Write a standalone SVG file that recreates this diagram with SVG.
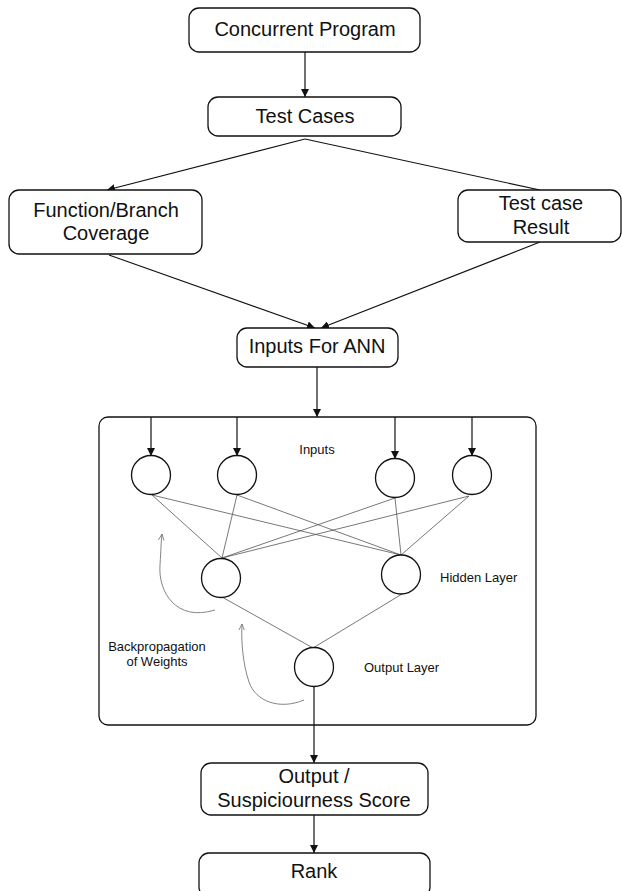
<svg xmlns="http://www.w3.org/2000/svg" width="622" height="891" viewBox="0 0 622 891">
<style>
.box{fill:#fff;stroke:#111;stroke-width:1.3}
.t{font-family:"Liberation Sans",Arial,sans-serif;font-size:20px;fill:#111;text-anchor:middle}
.s{font-family:"Liberation Sans",Arial,sans-serif;font-size:13px;fill:#111}
.c{fill:#fff;stroke:#111;stroke-width:1.3}
.w{stroke:#555;stroke-width:0.8;fill:none}
.a{stroke:#111;stroke-width:1.2;fill:none}
.bp{stroke:#777;stroke-width:0.9;fill:none}
</style>
<defs>
<marker id="ah" viewBox="0 0 10 10" refX="10" refY="5" markerWidth="8" markerHeight="8" markerUnits="userSpaceOnUse" orient="auto">
<path d="M0,0 L10,5 L0,10 z" fill="#111"/>
</marker>
<marker id="oh" viewBox="0 0 10 10" refX="9" refY="5" markerWidth="7" markerHeight="7" markerUnits="userSpaceOnUse" orient="auto">
<path d="M0,1 L9,5 L0,9" fill="none" stroke="#777" stroke-width="1.2"/>
</marker>
</defs>
<rect width="622" height="891" fill="#fff"/>

<g id="ann-box">
<rect class="box" x="99" y="417" width="437" height="308" rx="9"/>
</g>

<g id="connectors">
<line class="a" x1="305" y1="52" x2="305" y2="97" marker-end="url(#ah)"/>
<line class="a" x1="305" y1="139" x2="107" y2="190" marker-end="url(#ah)"/>
<line class="a" x1="305" y1="139" x2="540" y2="190"/>
<line class="a" x1="109" y1="255" x2="315" y2="328" marker-end="url(#ah)"/>
<line class="a" x1="540" y1="242" x2="321" y2="328" marker-end="url(#ah)"/>
<line class="a" x1="317" y1="367" x2="317" y2="417" marker-end="url(#ah)"/>
<line class="a" x1="151" y1="417" x2="151" y2="456" marker-end="url(#ah)"/>
<line class="a" x1="237" y1="417" x2="237" y2="456" marker-end="url(#ah)"/>
<line class="a" x1="395" y1="417" x2="395" y2="459" marker-end="url(#ah)"/>
<line class="a" x1="472" y1="417" x2="472" y2="456" marker-end="url(#ah)"/>
<line class="w" x1="152" y1="495" x2="222" y2="558"/>
<line class="w" x1="152" y1="495" x2="401" y2="555"/>
<line class="w" x1="237" y1="495" x2="222" y2="558"/>
<line class="w" x1="237" y1="495" x2="401" y2="555"/>
<line class="w" x1="395" y1="498" x2="222" y2="558"/>
<line class="w" x1="395" y1="498" x2="401" y2="555"/>
<line class="w" x1="469" y1="496" x2="222" y2="558"/>
<line class="w" x1="469" y1="496" x2="401" y2="555"/>
<line class="w" x1="222" y1="597" x2="313" y2="648"/>
<line class="w" x1="402" y1="594" x2="313" y2="648"/>
<line class="a" x1="314" y1="686" x2="314" y2="763" marker-end="url(#ah)"/>
<line class="a" x1="314" y1="815" x2="314" y2="853" marker-end="url(#ah)"/>
<path class="bp" d="M215,610 C176,622 158,592 160,565 C161,550 161,542 162,534" marker-end="url(#oh)"/>
<path class="bp" d="M304,700 C280,710 256,702 249,682 C243,664 241,642 242,624" marker-end="url(#oh)"/>
</g>

<g id="concurrent-program">
<rect class="box" x="189" y="8" width="231" height="44" rx="10"/>
<text class="t" x="305" y="36">Concurrent Program</text>
</g>
<g id="test-cases">
<rect class="box" x="208" y="97" width="193" height="39" rx="10"/>
<text class="t" x="305" y="123">Test Cases</text>
</g>
<g id="function-branch-coverage">
<rect class="box" x="9" y="190" width="193" height="64" rx="10"/>
<text class="t" x="106" y="217">Function/Branch</text>
<text class="t" x="106" y="240">Coverage</text>
</g>
<g id="test-case-result">
<rect class="box" x="458" y="190" width="163" height="52" rx="10"/>
<text class="t" x="541" y="210">Test case</text>
<text class="t" x="541" y="234">Result</text>
</g>
<g id="inputs-for-ann">
<rect class="box" x="237" y="328" width="161" height="39" rx="10"/>
<text class="t" x="317" y="353">Inputs For ANN</text>
</g>

<g id="input-1"><circle class="c" cx="151" cy="475" r="19.5"/></g>
<g id="input-2"><circle class="c" cx="237" cy="475" r="19.5"/></g>
<g id="input-3"><circle class="c" cx="395" cy="478" r="19.5"/></g>
<g id="input-4"><circle class="c" cx="472" cy="475" r="19.5"/></g>
<g id="hidden-1"><circle class="c" cx="221" cy="578" r="19.5"/></g>
<g id="hidden-2"><circle class="c" cx="401" cy="574.5" r="19.5"/></g>
<g id="output-node"><circle class="c" cx="314" cy="667" r="19.5"/></g>

<g id="labels">
<text class="s" x="317" y="453.5" text-anchor="middle">Inputs</text>
<text class="s" x="440" y="582">Hidden Layer</text>
<text class="s" x="364" y="672">Output Layer</text>
<text class="s" x="157" y="651" text-anchor="middle">Backpropagation</text>
<text class="s" x="157" y="666" text-anchor="middle">of Weights</text>
</g>

<g id="output-score">
<rect class="box" x="201" y="763" width="227" height="52" rx="10"/>
<text class="t" x="314" y="783">Output /</text>
<text class="t" x="314" y="807">Suspiciourness Score</text>
</g>
<g id="rank">
<rect class="box" x="199" y="853" width="231" height="44" rx="10"/>
<text class="t" x="314" y="878">Rank</text>
</g>
</svg>
